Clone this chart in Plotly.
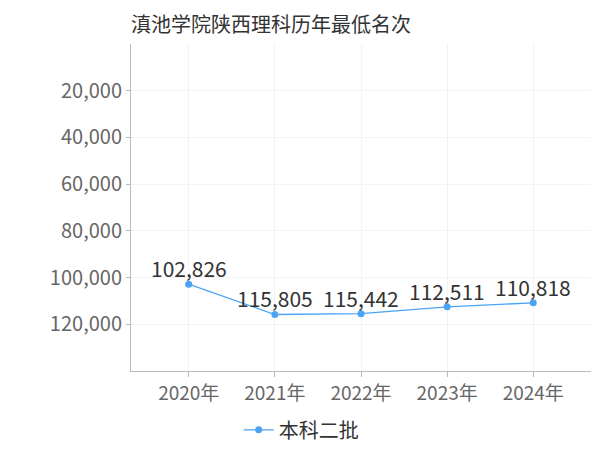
import plotly.graph_objects as go

years = ["2020年", "2021年", "2022年", "2023年", "2024年"]
ranks = [102826, 115805, 115442, 112511, 110818]
series_name = "本科二批"
title = "滇池学院陕西理科历年最低名次"
y_ticks = [20000, 40000, 60000, 80000, 100000, 120000]

font_family = "Noto Sans CJK SC, Noto Sans, sans-serif"

fig = go.Figure()
fig.add_trace(go.Scatter(
    x=years, y=ranks, name=series_name,
    mode="lines+markers",
    line=dict(color="#4aa3f5", width=1.3),
    marker=dict(color="#4aa3f5", size=7),
    cliponaxis=False,
))

for yr, v in zip(years, ranks):
    fig.add_annotation(
        x=yr, y=v, xref="x", yref="y", text=f"{v:,}",
        showarrow=False, yanchor="bottom", yshift=-1,
        font=dict(size=21, color="#333333", family=font_family),
    )

fig.update_layout(
    width=600, height=450,
    margin=dict(l=123, r=17, t=36, b=87, autoexpand=False),
    paper_bgcolor="white", plot_bgcolor="white",
    font=dict(family=font_family),
    title=dict(text=title, x=0, xref="paper", xanchor="left", y=0.962, yanchor="middle",
               font=dict(size=20, color="#333333", family=font_family)),
    showlegend=True,
    legend=dict(orientation="h", x=0.37, xanchor="center", y=-0.18, yanchor="middle",
                font=dict(size=20, color="#333333", family=font_family),
                itemwidth=30),
    xaxis=dict(
        range=[-0.67, 4.67],
        showline=True, linecolor="#bbbbbb", linewidth=1,
        ticks="outside", tickcolor="#bbbbbb", ticklen=5,
        showgrid=True, gridcolor="#f3f3f3",
        tickfont=dict(size=19, color="#666666", family=font_family),
        tickangle=0,
        zeroline=False,
    ),
    yaxis=dict(
        range=[140000, 0],
        tickvals=y_ticks,
        tickformat=",",
        showline=True, linecolor="#bbbbbb", linewidth=1,
        ticks="outside", tickcolor="#bbbbbb", ticklen=4,
        showgrid=True, gridcolor="#f3f3f3",
        tickfont=dict(size=20, color="#666666", family=font_family),
        zeroline=False,
    ),
)

fig.write_html("out.html")
